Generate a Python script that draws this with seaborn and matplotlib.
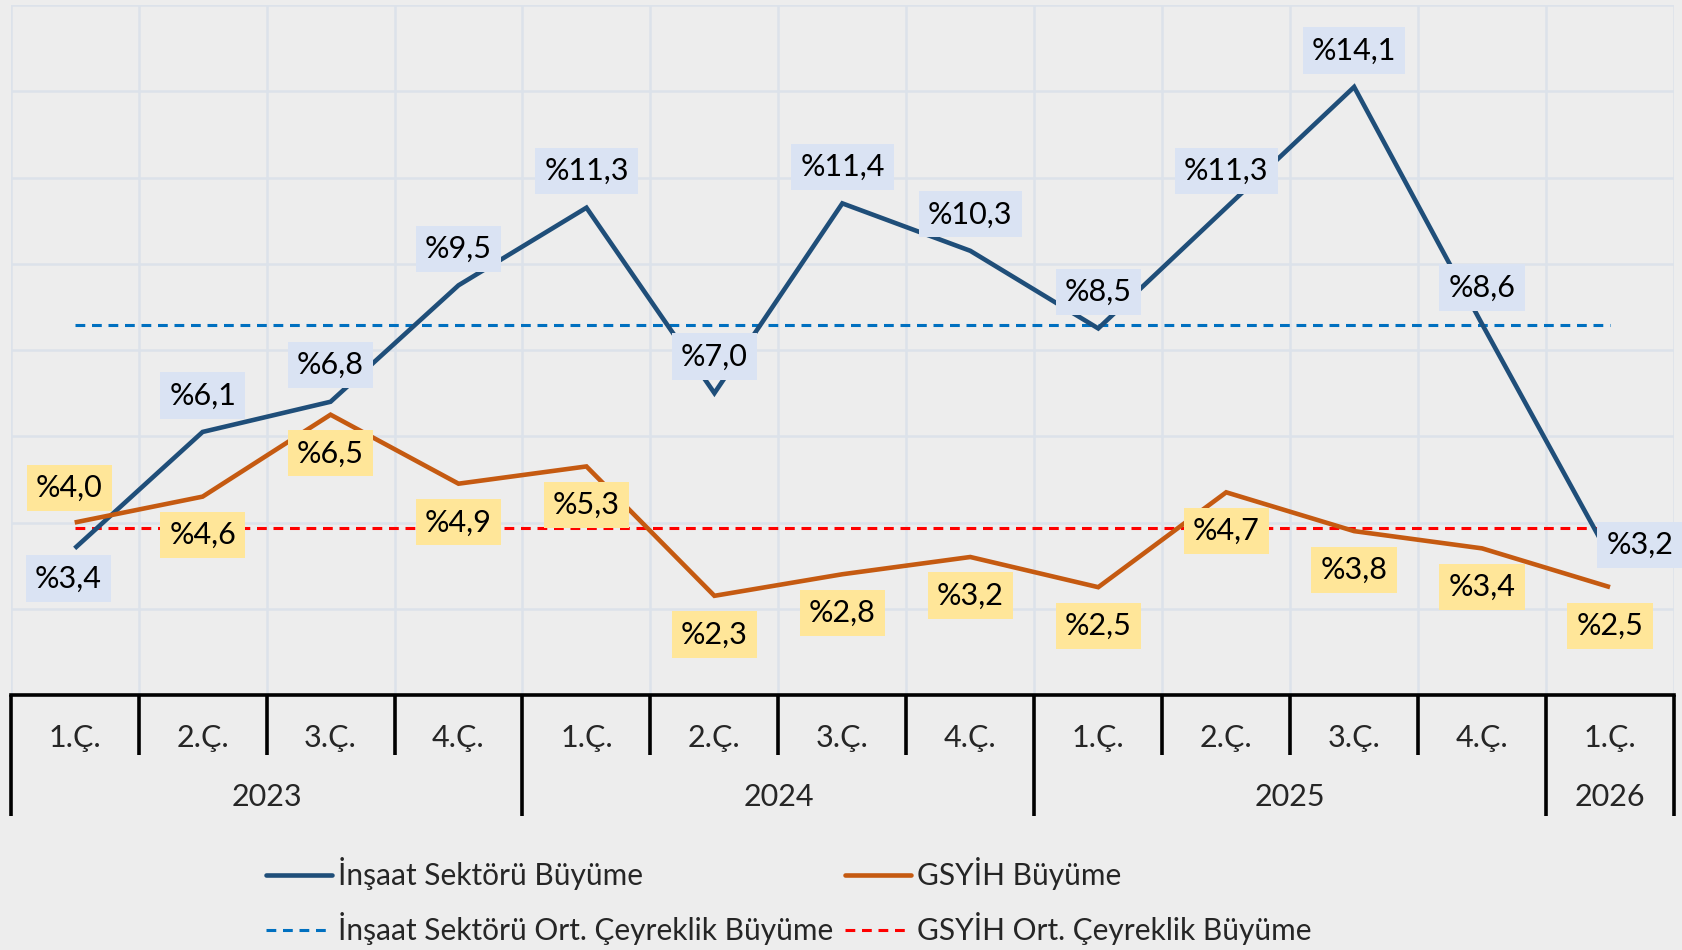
import matplotlib
matplotlib.use("Agg")
import matplotlib.pyplot as plt
import matplotlib.transforms as mtransforms
from matplotlib.lines import Line2D
import seaborn as sns
import pandas as pd

# ---- data ----
quarters = ["1.Ç.", "2.Ç.", "3.Ç.", "4.Ç.", "1.Ç.", "2.Ç.", "3.Ç.", "4.Ç.",
            "1.Ç.", "2.Ç.", "3.Ç.", "4.Ç.", "1.Ç."]
years = ["2023", "2024", "2025", "2026"]
year_counts = [4, 4, 4, 1]
insaat = [3.4, 6.1, 6.8, 9.5, 11.3, 7.0, 11.4, 10.3, 8.5, 11.3, 14.1, 8.6, 3.2]
gsyih = [4.0, 4.6, 6.5, 4.9, 5.3, 2.3, 2.8, 3.2, 2.5, 4.7, 3.8, 3.4, 2.5]
insaat_avg = 8.58
gsyih_avg = 3.88
series_names = ["İnşaat Sektörü Büyüme", "GSYİH Büyüme",
                "İnşaat Sektörü Ort. Çeyreklik Büyüme", "GSYİH Ort. Çeyreklik Büyüme"]

# ---- style ----
sns.set_theme(style="white")
plt.rcParams["font.family"] = ["Lato", "DejaVu Sans"]
BG = "#EDEDED"
GRID = "#DCE2EA"
C_INS = "#1F4E79"
C_GDP = "#C55A11"
C_INS_AVG = "#0070C0"
C_GDP_AVG = "#FF0000"
BOX_INS = "#DAE3F3"
BOX_GDP = "#FFE699"
FS = 22
FS_LEG = 21.5

W, H = 1683, 950
fig = plt.figure(figsize=(W / 100, H / 100), dpi=100, facecolor=BG)
ax_l, ax_r, ax_t, ax_b = 10.7, 1674, 5, 695
ax = fig.add_axes([ax_l / W, 1 - ax_b / H, (ax_r - ax_l) / W, (ax_b - ax_t) / H])
ax.set_facecolor(BG)

n = len(quarters)
idx = list(range(n))
df = pd.DataFrame({"idx": idx * 2,
                   "value": insaat + gsyih,
                   "series": [series_names[0]] * n + [series_names[1]] * n})

sns.lineplot(data=df, x="idx", y="value", hue="series",
             palette={series_names[0]: C_INS, series_names[1]: C_GDP},
             linewidth=3.3, ax=ax, legend=False, zorder=3)
for ln in ax.lines:
    ln.set_solid_joinstyle("miter")
    ln.set_solid_capstyle("butt")

ax.plot([idx[0], idx[-1]], [insaat_avg, insaat_avg], color=C_INS_AVG, lw=2.2,
        dashes=(3.2, 2.2), zorder=2)
ax.plot([idx[0], idx[-1]], [gsyih_avg, gsyih_avg], color=C_GDP_AVG, lw=2.2,
        dashes=(3.2, 2.2), zorder=2)

ax.set_xlim(-0.5, n - 0.5)
ax.set_ylim(0, 16)
ax.set_xticks([i - 0.5 for i in range(n + 1)])
ax.set_yticks(range(0, 17, 2))
ax.set_xticklabels([])
ax.set_yticklabels([])
ax.tick_params(length=0)
ax.grid(True, color=GRID, lw=1.8, zorder=0)
ax.set_axisbelow(True)
ax.set_xlabel("")
ax.set_ylabel("")
for s in ["top", "left", "right"]:
    ax.spines[s].set_visible(False)
ax.spines["bottom"].set_color("black")
ax.spines["bottom"].set_linewidth(2.6)
ax.spines["bottom"].set_zorder(5)

# ---- data labels ----
def fmt(v):
    return "%" + f"{v:.1f}".replace(".", ",")

for i, v in enumerate(insaat):
    if i == 0:
        off = (-4.6, -21.6)
    elif i == n - 1:
        off = (21.5, 8.6)
    else:
        off = (0, 26.3)
    ax.annotate(fmt(v), (i, v), xytext=off, textcoords="offset points",
                ha="center", va="center", fontsize=FS, color="black", zorder=6,
                bbox=dict(boxstyle="square,pad=0.3", fc=BOX_INS, ec="none"),
                annotation_clip=False)

for i, v in enumerate(gsyih):
    if i == 0:
        off = (-3.9, 24.7)
    else:
        off = (0, -27.8)
    ax.annotate(fmt(v), (i, v), xytext=off, textcoords="offset points",
                ha="center", va="center", fontsize=FS, color="black", zorder=6,
                bbox=dict(boxstyle="square,pad=0.3", fc=BOX_GDP, ec="none"),
                annotation_clip=False)

# ---- category axis table ----
trans = mtransforms.blended_transform_factory(ax.transData, ax.transAxes)
axh = ax_b - ax_t
y_q = -(755 - ax_b) / axh
y_y = -(816 - ax_b) / axh
y_qt = -(738 - ax_b) / axh
y_yt = -(797 - ax_b) / axh

year_bounds = [-0.5]
for c in year_counts:
    year_bounds.append(year_bounds[-1] + c)

for i in range(n + 1):
    xb = i - 0.5
    ybot = y_y if xb in year_bounds else y_q
    ax.plot([xb, xb], [0, ybot], color="black", lw=2.6, transform=trans,
            clip_on=False, solid_capstyle="butt", zorder=5)

for i, q in enumerate(quarters):
    ax.text(i, y_qt, q, transform=trans, ha="center", va="center", fontsize=FS)

for k, yr in enumerate(years):
    xc = (year_bounds[k] + year_bounds[k + 1]) / 2
    ax.text(xc, y_yt, yr, transform=trans, ha="center", va="center", fontsize=FS)

# ---- legend ----
handles = [
    Line2D([], [], color=C_INS, lw=3.3, solid_capstyle="round"),
    Line2D([], [], color=C_INS_AVG, lw=2.2, dashes=(3.2, 2.2)),
    Line2D([], [], color=C_GDP, lw=3.3, solid_capstyle="round"),
    Line2D([], [], color=C_GDP_AVG, lw=2.2, dashes=(3.2, 2.2)),
]
labels = [series_names[0], series_names[2], series_names[1], series_names[3]]
fig.legend(handles, labels, ncol=2, loc="upper left",
           bbox_to_anchor=(266 / W, 1 - 857 / H), frameon=False, fontsize=FS_LEG,
           handlelength=2.2, handletextpad=0.2, columnspacing=0.4,
           labelspacing=0.75, borderpad=0, borderaxespad=0)

fig.savefig("out.png", dpi=100, facecolor=BG)
